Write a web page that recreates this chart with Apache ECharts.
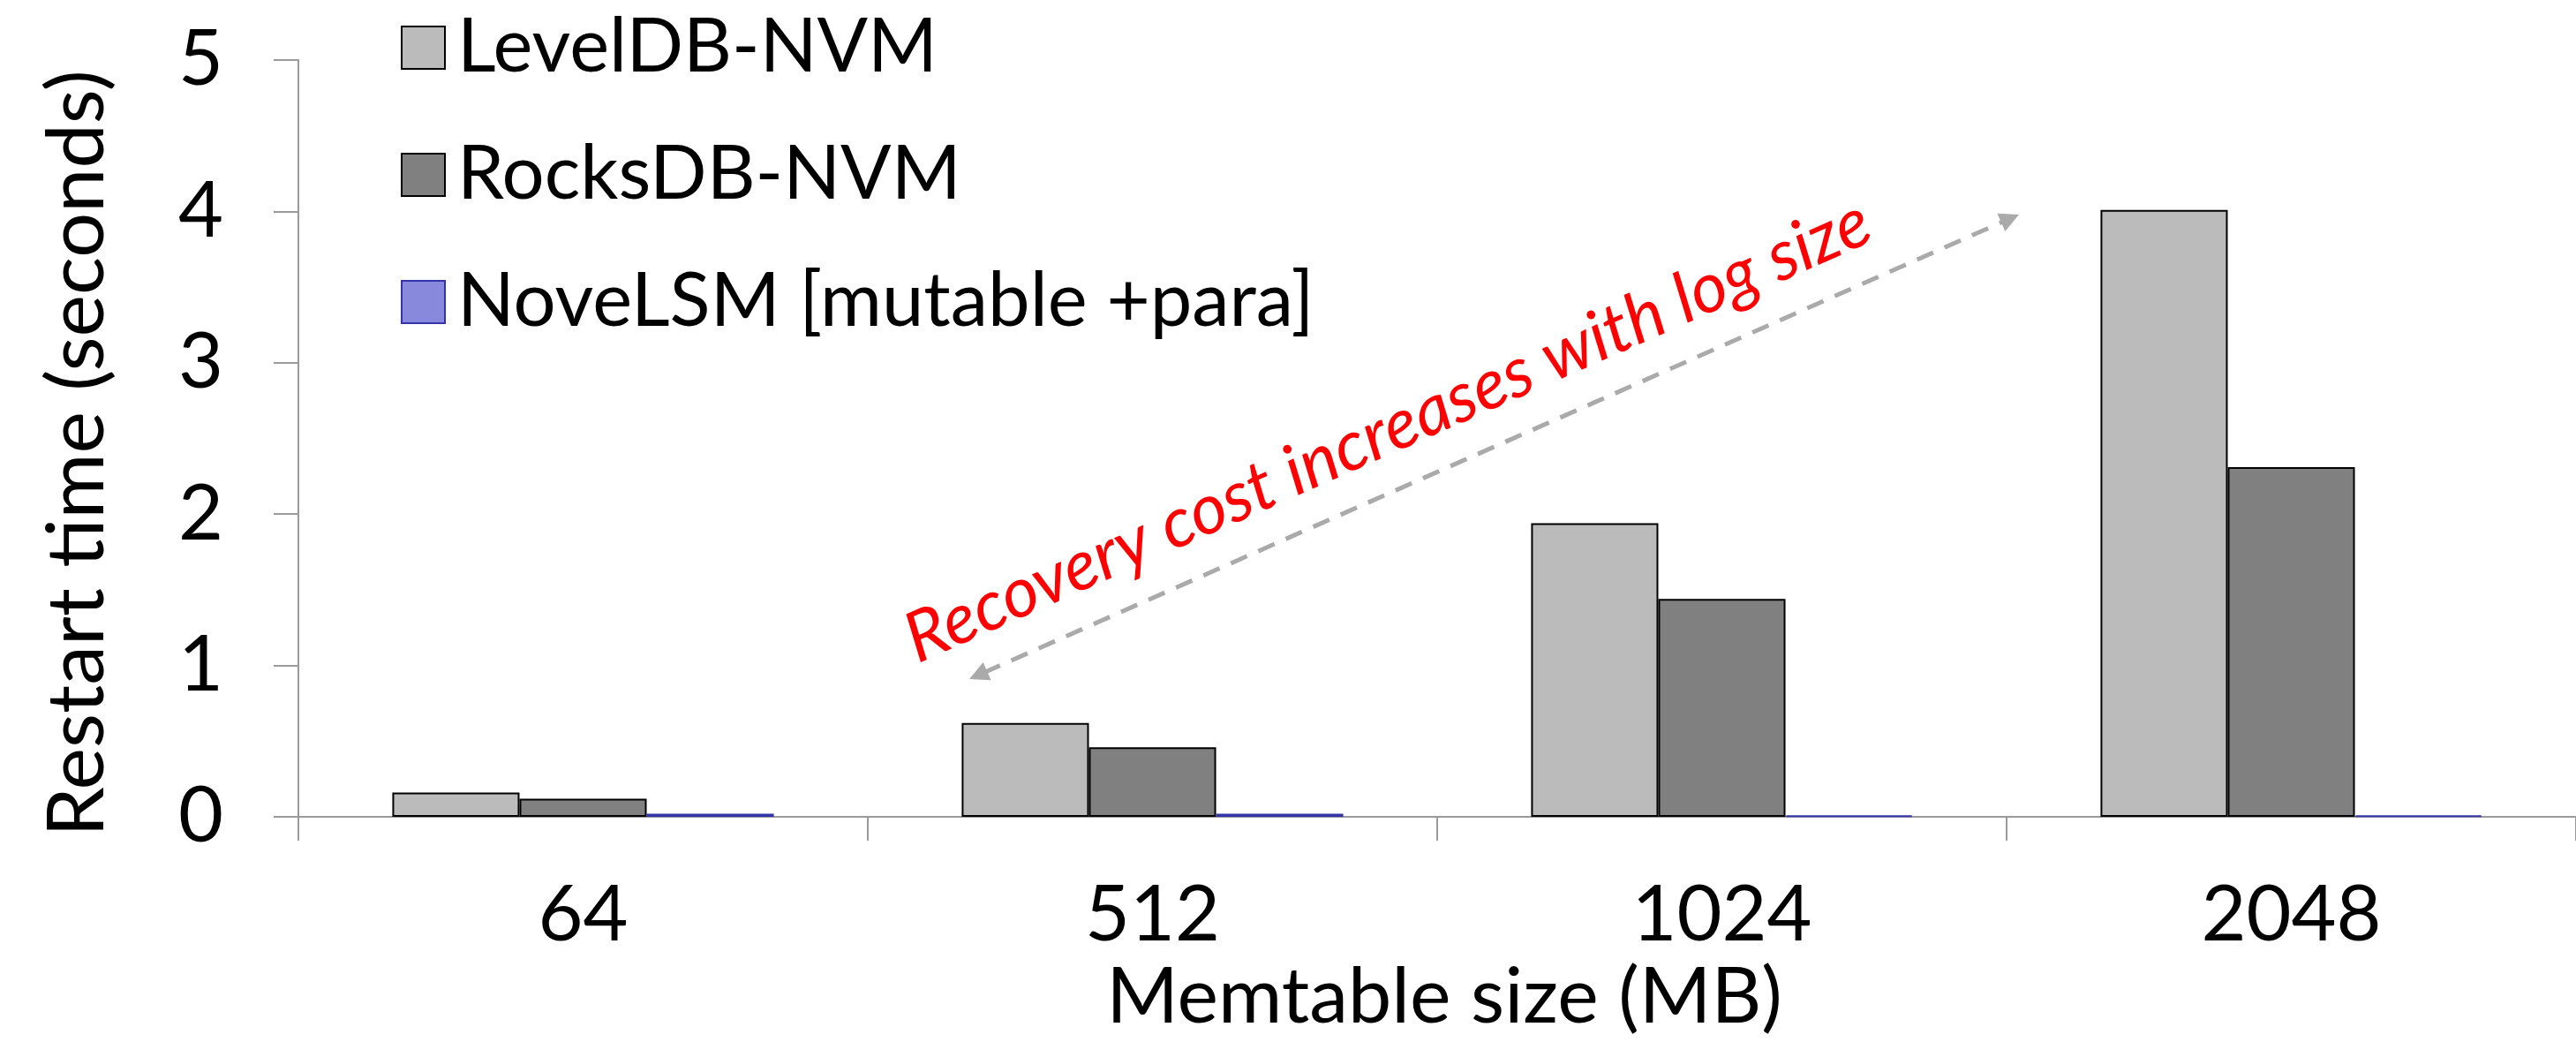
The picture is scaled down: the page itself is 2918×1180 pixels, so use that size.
<!DOCTYPE html>
<html>
<head>
<meta charset="utf-8">
<script src="https://cdn.jsdelivr.net/npm/echarts@6/dist/echarts.min.js"></script>
<style>
  html, body { margin: 0; padding: 0; background: #ffffff; }
  #chart { width: 2918px; height: 1180px; }
</style>
</head>
<body>
<div id="chart"></div>
<script>
// Memtable sizes (MB) on the x axis
const memtableSizes = ['64', '512', '1024', '2048'];

// Restart time in seconds for each system
const levelDbNvm = [0.16, 0.62, 1.94, 4.01];
const rocksDbNvm = [0.12, 0.46, 1.44, 2.31];
const noveLsmMutablePara = [0.02, 0.02, 0.01, 0.01];

// Y axis range
const yMin = 0;
const yMax = 5;
const yStep = 1;

const FONT = 'Lato, "Open Sans", sans-serif';
const AXIS_GRAY = '#9a9a9a';

const chart = echarts.init(document.getElementById('chart'), null, { renderer: 'canvas' });

// Dashed double-headed arrow for the annotation
const arrowStart = [1098, 769];
const arrowEnd = [2287, 243];
const arrowColor = '#aaaaaa';

function arrowHead(tip, from) {
  const dx = tip[0] - from[0], dy = tip[1] - from[1];
  const len = Math.hypot(dx, dy);
  const ux = dx / len, uy = dy / len;
  const headLen = 22, headHalf = 11;
  const bx = tip[0] - ux * headLen, by = tip[1] - uy * headLen;
  return {
    type: 'polygon',
    shape: { points: [tip, [bx - uy * headHalf, by + ux * headHalf], [bx + uy * headHalf, by - ux * headHalf]] },
    style: { fill: arrowColor }
  };
}

function shorten(p, q, d) {
  const dx = q[0] - p[0], dy = q[1] - p[1];
  const len = Math.hypot(dx, dy);
  return [p[0] + dx / len * d, p[1] + dy / len * d];
}

const lineA = shorten(arrowStart, arrowEnd, 18);
const lineB = shorten(arrowEnd, arrowStart, 18);
const angle = Math.atan2(arrowStart[1] - arrowEnd[1], arrowEnd[0] - arrowStart[0]);

const option = {
  backgroundColor: '#ffffff',
  animation: false,
  textStyle: { fontFamily: FONT },
  grid: { left: 338, right: 0, top: 68, bottom: 255, containLabel: false },
  legend: {
    orient: 'vertical',
    left: 449,
    top: 4,
    itemWidth: 49,
    itemHeight: 48,
    itemGap: 54,
    icon: 'rect',
    textStyle: { fontSize: 85, lineHeight: 90, color: '#000000', fontFamily: FONT, padding: [0, 0, 0, 9] },
    data: ['LevelDB-NVM', 'RocksDB-NVM', 'NoveLSM [mutable +para]']
  },
  xAxis: {
    type: 'category',
    data: memtableSizes,
    name: 'Memtable size (MB)',
    nameLocation: 'middle',
    nameGap: 160,
    nameTextStyle: { fontSize: 88, color: '#000000', fontFamily: FONT, padding: [0, 0, 0, 16] },
    axisLine: { show: true, lineStyle: { color: AXIS_GRAY, width: 2 } },
    axisTick: { show: true, alignWithLabel: false, length: 27, lineStyle: { color: AXIS_GRAY, width: 2 } },
    axisLabel: { fontSize: 88, color: '#000000', margin: 68, fontFamily: FONT },
    splitLine: { show: false }
  },
  yAxis: {
    type: 'value',
    min: yMin,
    max: yMax,
    interval: yStep,
    name: 'Restart time (seconds)',
    nameLocation: 'middle',
    nameGap: 205,
    nameTextStyle: { fontSize: 90, color: '#000000', fontFamily: FONT, padding: [0, 34, 0, 0] },
    axisLine: { show: true, lineStyle: { color: AXIS_GRAY, width: 2 } },
    axisTick: { show: true, inside: false, length: 28, lineStyle: { color: AXIS_GRAY, width: 2 } },
    axisLabel: { fontSize: 88, color: '#000000', margin: 85, fontFamily: FONT },
    splitLine: { show: false }
  },
  series: [
    {
      name: 'LevelDB-NVM',
      type: 'bar',
      data: levelDbNvm,
      barGap: '0%',
      barCategoryGap: '33%',
      itemStyle: { color: '#bbbbbb', borderColor: '#000000', borderWidth: 2 }
    },
    {
      name: 'RocksDB-NVM',
      type: 'bar',
      data: rocksDbNvm,
      barGap: '0%',
      barCategoryGap: '33%',
      itemStyle: { color: '#808080', borderColor: '#000000', borderWidth: 2 }
    },
    {
      name: 'NoveLSM [mutable +para]',
      type: 'bar',
      data: noveLsmMutablePara,
      barGap: '0%',
      barCategoryGap: '33%',
      itemStyle: { color: '#8888dd', borderColor: '#3333aa', borderWidth: 2 }
    }
  ],
  graphic: [
    {
      type: 'line',
      shape: { x1: lineA[0], y1: lineA[1], x2: lineB[0], y2: lineB[1] },
      style: { stroke: arrowColor, lineWidth: 5, lineDash: [20, 14] },
      z: 10
    },
    Object.assign(arrowHead(arrowStart, arrowEnd), { z: 10 }),
    Object.assign(arrowHead(arrowEnd, arrowStart), { z: 10 }),
    {
      type: 'text',
      x: 1572,
      y: 488,
      rotation: angle,
      z: 11,
      style: {
        text: 'Recovery cost increases with log size',
        fill: '#ff0000',
        fontSize: 79,
        fontStyle: 'italic',
        fontFamily: FONT,
        align: 'center',
        verticalAlign: 'middle'
      }
    }
  ]
};

chart.setOption(option);
</script>
</body>
</html>
